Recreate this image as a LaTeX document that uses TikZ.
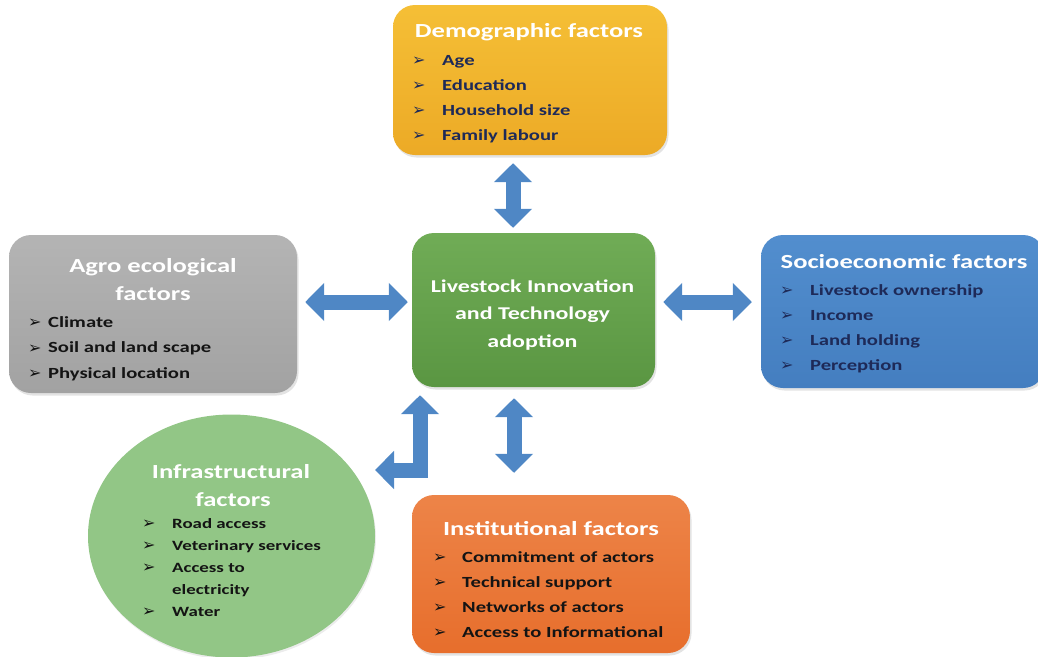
\documentclass[tikz,border=0pt]{standalone}
\usepackage{fontspec}
\usetikzlibrary{arrows.meta,shapes.geometric,shadows}
\setmainfont{Carlito}[FakeStretch=1.33]
\newfontfamily\bulletfont{DejaVu Sans}
\definecolor{arrowblue}{RGB}{79,135,197}
\definecolor{demotop}{RGB}{245,191,54}
\definecolor{demobot}{RGB}{236,170,38}
\definecolor{agrotop}{RGB}{180,180,180}
\definecolor{agrobot}{RGB}{162,162,162}
\definecolor{sociotop}{RGB}{82,142,206}
\definecolor{sociobot}{RGB}{68,126,192}
\definecolor{centtop}{RGB}{112,172,86}
\definecolor{centbot}{RGB}{90,150,66}
\definecolor{infrafill}{RGB}{146,198,134}
\definecolor{insttop}{RGB}{237,132,72}
\definecolor{instbot}{RGB}{231,110,44}
\definecolor{navytext}{RGB}{30,42,88}
\definecolor{darktext}{RGB}{20,20,20}
% bullet of a given width, followed by the item text
\newcommand\bul[1]{\makebox[#1][l]{\bulletfont\fontsize{16}{16}\selectfont\raisebox{-0.5pt}{\char"27A2}}}
\tikzset{
  factorbox/.style={rounded corners=22pt, inner sep=0pt,
    drop shadow={opacity=0.22, shadow xshift=1.5pt, shadow yshift=-2.5pt}},
  titletext/.style={anchor=base, inner sep=0pt, text=white,
    font=\bfseries\fontsize{20}{24}\selectfont},
  itemtext/.style={anchor=base west, inner sep=0pt,
    font=\bfseries\fontsize{15.5}{18}\selectfont},
  smallitem/.style={anchor=base west, inner sep=0pt,
    font=\bfseries\fontsize{14.2}{17}\selectfont},
  barrow/.style={draw=arrowblue, line width=15pt, line join=miter,
    {Triangle[width=37pt,length=19pt]}-{Triangle[width=37pt,length=19pt]}},
}
\begin{document}
\begin{tikzpicture}[x=1pt,y=-1pt]
\useasboundingbox (0,0) rectangle (1038,656);

% ---- boxes ----
\node[factorbox, top color=demotop, bottom color=demobot,
  minimum width=274pt, minimum height=150pt] (demo) at (530,80) {};
\node[factorbox, top color=agrotop, bottom color=agrobot,
  minimum width=288pt, minimum height=158pt] (agro) at (153,314) {};
\node[factorbox, top color=sociotop, bottom color=sociobot,
  minimum width=284pt, minimum height=153pt] (socio) at (903,311.5) {};
\node[factorbox, top color=centtop, bottom color=centbot,
  minimum width=243pt, minimum height=154pt] (center) at (533.5,310) {};
\node[factorbox, top color=insttop, bottom color=instbot,
  minimum width=278pt, minimum height=158pt] (inst) at (551,574) {};
\node[ellipse, fill=infrafill, inner sep=0pt,
  minimum width=287pt, minimum height=243pt,
  drop shadow={opacity=0.15, shadow xshift=1pt, shadow yshift=-2pt}] (infra) at (231.5,536) {};

% ---- demographic ----
\node[titletext] (demo-title) at (529,37) {Demographic factors};
\foreach \t [count=\i] in {Age, Education, Household size, Family labour}
  \node[itemtext, text=navytext] (demo-\i) at (412,{65+25*(\i-1)}) {\bul{30pt}\t};

% ---- agro ecological ----
\node[titletext] (agro-title1) at (153,272) {Agro ecological};
\node[titletext] (agro-title2) at (153,300) {factors};
\foreach \t [count=\i] in {Climate, Soil and land scape, Physical location}
  \node[itemtext, text=darktext] (agro-\i) at (28,{327+25.5*(\i-1)}) {\bul{20pt}\t};

% ---- socioeconomic ----
\node[titletext] (socio-title) at (904,268) {Socioeconomic factors};
\foreach \t [count=\i] in {Livestock ownership, Income, Land holding, Perception}
  \node[itemtext, text=navytext] (socio-\i) at (780,{295+25*(\i-1)}) {\bul{30pt}\t};

% ---- centre ----
\foreach \t [count=\i] in {Livestock Innovation, and Technology, adoption}
  \node[anchor=base, inner sep=0pt, text=white,
    font=\bfseries\fontsize{18}{22}\selectfont] (center-\i) at (532.5,{292+27.5*(\i-1)}) {\t};

% ---- infrastructural ----
\node[titletext] (infra-title1) at (231,478) {Infrastructural};
\node[titletext] (infra-title2) at (233,506) {factors};
\node[smallitem, text=darktext] (infra-1) at (142,528) {\bul{30pt}Road access};
\node[smallitem, text=darktext] (infra-2) at (142,550) {\bul{30pt}Veterinary services};
\node[smallitem, text=darktext] (infra-3) at (142,572) {\bul{30pt}Access to};
\node[smallitem, text=darktext] (infra-4) at (172,594) {electricity};
\node[smallitem, text=darktext] (infra-5) at (142,616) {\bul{30pt}Water};

% ---- institutional ----
\node[titletext] (inst-title) at (551,535) {Institutional factors};
\foreach \t [count=\i] in {Commitment of actors, Technical support, Networks of actors, Access to Informational}
  \node[itemtext, text=darktext] (inst-\i) at (433,{562+25*(\i-1)}) {\bul{29pt}\t};

% ---- connectors ----
\draw[barrow, shorten <=8pt, shorten >=5pt]
  ([xshift=-17pt]demo.south) -- ([xshift=-20.5pt]center.north);
\draw[barrow, shorten <=11pt, shorten >=22pt]
  ([xshift=-19.5pt]center.south) -- ([xshift=-37pt]inst.north);
\draw[barrow, shorten <=8pt, shorten >=4pt]
  ([yshift=12pt]agro.east) -- ([yshift=8pt]center.west);
\draw[barrow, shorten <=8pt, shorten >=9pt]
  ([yshift=8pt]center.east) -- ([yshift=9.5pt]socio.west);
\coordinate (infra-end) at (375,470);
\draw[barrow, shorten >=8pt]
  (infra-end) -| ([xshift=-113.5pt]center.south);
\end{tikzpicture}
\end{document}
